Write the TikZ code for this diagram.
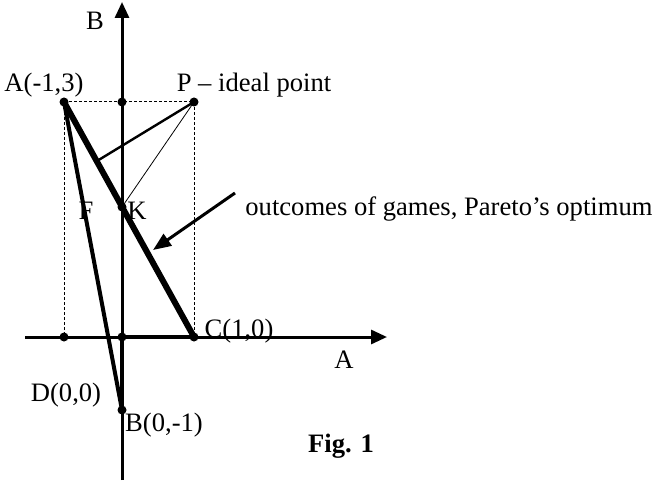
\documentclass[tikz,border=0pt]{standalone}
\usepackage{fontspec}
\setmainfont{Liberation Serif}
\usetikzlibrary{arrows.meta}
\begin{document}
\begin{tikzpicture}[x=0.5pt, y=-0.5pt,
    axis/.style={line width=1.5pt, -{Triangle[length=8pt, width=7pt]}},
    guide/.style={line width=0.5pt, dash pattern=on 1.5pt off 1pt},
    edge/.style={line width=2pt},
    pareto/.style={line width=3pt},
    dot/.style={circle, fill, inner sep=0pt, minimum size=4.5pt},
    lbl/.style={font=\fontsize{13.3}{16}\selectfont, inner sep=0pt, anchor=base},
    pointer/.style={line width=1.5pt, -{Triangle[length=9pt, width=7pt]}}
]
\useasboundingbox (0,0) rectangle (656,480);

% Axes
\coordinate (xmin) at (25,337);
\coordinate (xmax) at (387,337);
\coordinate (ymin) at (122,480);
\coordinate (ymax) at (122,2);
\draw[axis] (xmin) -- (xmax);
\draw[axis] (ymin) -- (ymax);

% Points
\node[dot] (a) at (64,102) {};
\node[dot] (p) at (194,102) {};
\node[dot] (a3) at (122,102) {};
\node[dot] (k) at (122,207) {};
\node[dot] (c) at (194,337) {};
\node[dot] (d) at (122,337) {};
\node[dot] (am1) at (64,337) {};
\node[dot] (b) at (122,410) {};
\coordinate (f) at (97,161);

% Dotted guides
\draw[guide] (a.center) -- (p.center) -- (c.center);
\draw[guide] (a.center) -- (am1.center);

% Edges
\draw[pareto] (a.center) -- (c.center);
\draw[edge] (a.center) -- (b.center);
\draw[edge] (d.center) -- (b.center);
\draw[edge] (d.center) -- (c.center);
\draw[line width=1.2pt] (p.center) -- (f);
\draw[line width=0.4pt] (p.center) -- (k.center);

% Labels
\node[lbl] (lb) at (95,30) {B};
\node[lbl] (la) at (344,368) {A};
\node[lbl] (lpa) at (44,92) {A(-1,3)};
\node[lbl] (lpp) at (254,92) {P – ideal point};
\node[lbl] (lf) at (86,220) {F};
\node[lbl] (lk) at (137,220) {K};
\node[lbl] (lpc) at (239,337) {C(1,0)};
\node[lbl] (lpd) at (66,401) {D(0,0)};
\node[lbl] (lpb) at (164,431) {B(0,-1)};
\node[lbl, anchor=base west] (lout) at (245,215) {outcomes of games, Pareto’s optimum};
\node[lbl, font=\fontsize{13.3}{16}\selectfont\bfseries] (lfig) at (341,452) {Fig. 1};

% Pointer
\coordinate (ps) at (235,193);
\coordinate (pe) at (153,250);
\draw[pointer] (ps) -- (pe);

\end{tikzpicture}
\end{document}
